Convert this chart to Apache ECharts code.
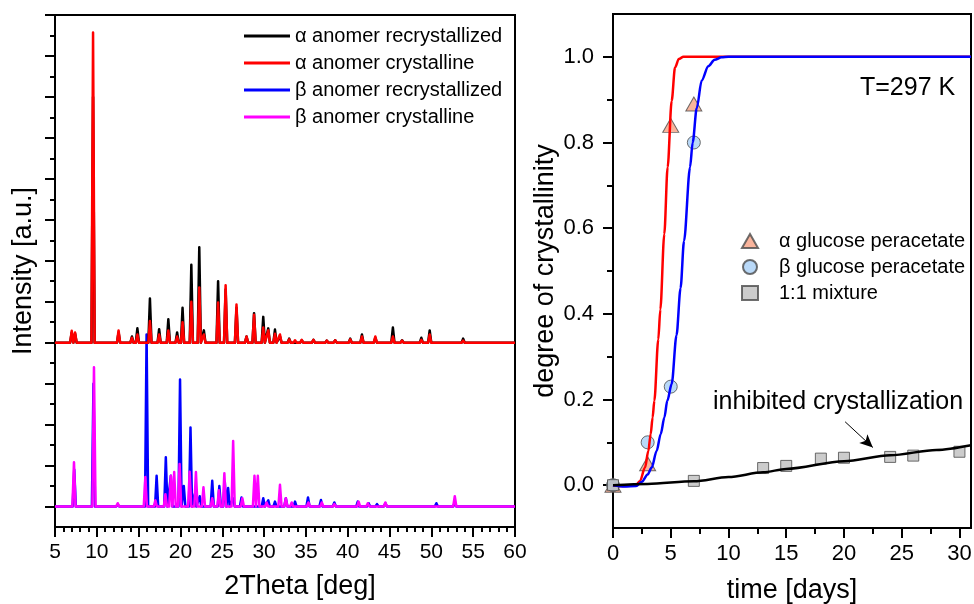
<!DOCTYPE html>
<html>
<head>
<meta charset="utf-8">
<script src="https://cdn.jsdelivr.net/npm/echarts@6/dist/echarts.min.js"></script>
<style>
  html, body { margin: 0; background: #fff; }
  #chart { width: 974px; height: 604px; }
</style>
</head>
<body>
<div id="chart"></div>
<script>
const FONT = 'Arial, "Liberation Sans", sans-serif';

/* ---- left panel: XRD peaks, [2theta, height above the pattern's own baseline] ---- */
const alphaRecrystPeaks = [
  [7.0, 0.25], [7.4, 0.22], [9.55, 6.0], [12.6, 0.25], [14.2, 0.15], [14.85, 0.35],
  [16.35, 1.08], [17.45, 0.33], [18.55, 0.57], [19.6, 0.25], [20.25, 0.85], [21.3, 1.9],
  [22.25, 2.33], [22.8, 0.3], [24.5, 1.5], [25.4, 1.3], [26.7, 0.85], [27.9, 0.15],
  [28.8, 0.72], [29.9, 0.63], [30.5, 0.35], [31.3, 0.32], [31.9, 0.15], [33.0, 0.1],
  [34.5, 0.06], [35.9, 0.07], [37.5, 0.05], [38.5, 0.06], [40.3, 0.1], [41.7, 0.2],
  [43.3, 0.12], [45.4, 0.37], [46.5, 0.06], [48.8, 0.12], [49.8, 0.3], [53.8, 0.1]
];
const alphaCrystPeaks = [
  [7.0, 0.29], [7.4, 0.25], [9.55, 7.57], [12.6, 0.3], [14.2, 0.12], [14.85, 0.2],
  [16.35, 0.53], [17.45, 0.2], [18.55, 0.3], [19.6, 0.15], [20.25, 0.5], [21.3, 1.0],
  [22.25, 1.35], [22.8, 0.2], [24.5, 0.98], [25.4, 1.4], [26.7, 0.93], [27.9, 0.15],
  [28.8, 0.68], [29.9, 0.37], [30.5, 0.3], [31.3, 0.22], [31.9, 0.2], [33.0, 0.08],
  [33.7, 0.06], [34.5, 0.07], [35.9, 0.07], [37.5, 0.05], [38.5, 0.06], [40.3, 0.08],
  [41.7, 0.15], [43.3, 0.15], [45.4, 0.15], [46.5, 0.05], [48.8, 0.07], [49.8, 0.2], [53.8, 0.05]
];
const betaRecrystPeaks = [
  [7.3, 0.9], [9.6, 3.0], [12.5, 0.05], [15.95, 4.2], [17.15, 0.75], [18.25, 1.2],
  [18.85, 0.75], [19.95, 3.1], [20.4, 0.5], [21.2, 1.93], [21.7, 0.3], [22.3, 0.25],
  [23.8, 0.63], [24.65, 0.5], [25.3, 0.6], [25.7, 0.45], [26.3, 0.2], [27.3, 0.22],
  [29.9, 0.2], [30.5, 0.15], [31.3, 0.12], [32.6, 0.2], [33.7, 0.12], [35.25, 0.22],
  [36.8, 0.16], [38.4, 0.1], [41.2, 0.12], [42.5, 0.08], [43.5, 0.06], [44.5, 0.08],
  [50.6, 0.08], [52.8, 0.1]
];
const betaCrystPeaks = [
  [7.27, 1.08], [9.66, 3.4], [12.5, 0.08], [15.8, 0.72], [17.0, 0.15], [18.2, 0.3],
  [18.85, 0.75], [19.25, 0.84], [19.9, 1.04], [21.1, 0.85], [21.85, 0.84], [22.75, 0.47],
  [23.8, 0.2], [24.6, 0.4], [25.25, 0.81], [26.3, 1.6], [27.4, 0.2], [28.85, 0.75],
  [29.25, 0.75], [30.3, 0.1], [31.9, 0.53], [32.6, 0.2], [33.3, 0.1], [35.3, 0.1],
  [36.9, 0.1], [38.4, 0.06], [41.3, 0.12], [42.4, 0.08], [44.5, 0.1], [52.8, 0.25]
];
const alphaBaseline = 4;   // alpha patterns are stacked above the beta ones
const betaBaseline = 0;
const xrdNames = ['α anomer recrystallized', 'α anomer crystalline', 'β anomer recrystallized', 'β anomer crystalline'];
const xrdColors = ['#000000', '#ff0000', '#0000ff', '#ff00ff'];

/* ---- right panel: degree of crystallinity ---- */
const alphaTime = [0, 3, 5, 7];
const alphaDegree = [0, 0.05, 0.84, 0.89];
const betaTime = [0, 3, 5, 7];
const betaDegree = [0, 0.10, 0.23, 0.80];
const mixTime = [0, 7, 13, 15, 18, 20, 24, 26, 30];
const mixDegree = [0, 0.01, 0.04, 0.045, 0.062, 0.064, 0.066, 0.069, 0.078];

// fitted curves
const alphaFitTime = [0, 1, 2, 2.34, 2.77, 3.06, 3.26, 3.43, 3.58, 3.92, 4.1, 4.44, 4.73, 5.08, 5.37, 5.7, 6.1, 8, 31];
const alphaFitDegree = [0, -0.002, 0, 0.01, 0.041, 0.08, 0.119, 0.158, 0.197, 0.34, 0.41, 0.586, 0.742, 0.897, 0.975, 0.995, 1.0, 1.0, 1.0];
const betaFitTime = [0, 1, 2, 2.5, 3, 3.35, 3.78, 4.13, 4.45, 4.7, 5.08, 5.5, 5.85, 6.15, 6.67, 6.9, 7.25, 7.68, 8.25, 8.8, 9.4, 10, 31];
const betaFitDegree = [0, -0.003, -0.002, 0.008, 0.025, 0.041, 0.08, 0.119, 0.158, 0.197, 0.236, 0.35, 0.46, 0.57, 0.742, 0.8, 0.88, 0.945, 0.978, 0.993, 0.999, 1.0, 1.0];
const mixFitTime = [0, 3, 7, 10, 13, 15, 20, 24, 28, 31];
const mixFitDegree = [0, 0.003, 0.009, 0.019, 0.030, 0.038, 0.056, 0.070, 0.082, 0.093];

const timeMajor = [0, 5, 10, 15, 20, 25, 30];
const timeAllTicks = [0, 2.5, 5, 7.5, 10, 12.5, 15, 17.5, 20, 22.5, 25, 27.5, 30];
const degreeMajor = [0, 0.2, 0.4, 0.6, 0.8, 1.0];
const degreeAllTicks = [0, 0.1, 0.2, 0.3, 0.4, 0.5, 0.6, 0.7, 0.8, 0.9, 1.0];

const arrowFrom = [20.1, 0.148];
const arrowTo = [22.5, 0.088];

const zip = (xs, ys) => xs.map((x, i) => [x, ys[i]]);

// each peak becomes a narrow spike standing on the baseline
function pattern(peaks, base) {
  const pts = [[5, base]];
  peaks.forEach(([pos, h]) => {
    pts.push([pos - 0.19, base], [pos, base + h], [pos + 0.19, base]);
  });
  pts.push([60, base]);
  return pts;
}

const axisLine = { show: true, onZero: false, lineStyle: { color: '#000', width: 2 } };
const labelStyle = { color: '#000', fontFamily: FONT };
const tickLine = { color: '#000', width: 2 };
const rightRect = { left: 613, right: 3, top: 14, bottom: 76 };

function xrdSeries(i, peaks, base) {
  return {
    type: 'line', name: xrdNames[i], xAxisIndex: 0, yAxisIndex: 0,
    data: pattern(peaks, base), showSymbol: false, symbol: 'none',
    itemStyle: { color: xrdColors[i] },
    lineStyle: { color: xrdColors[i], width: 2.5, join: 'round' },
    z: 2
  };
}

function fitSeries(name, xs, ys, color) {
  return {
    type: 'line', name, xAxisIndex: 1, yAxisIndex: 2,
    data: zip(xs, ys), showSymbol: false, symbol: 'none',
    smooth: 0.3, smoothMonotone: 'x',
    itemStyle: { color }, lineStyle: { color, width: 2.5 }, z: 4
  };
}

const chart = echarts.init(document.getElementById('chart'), null, { renderer: 'canvas' });

chart.setOption({
  backgroundColor: '#fff',
  animation: false,
  textStyle: { fontFamily: FONT },
  grid: [
    { left: 55, right: 459, top: 15, bottom: 77, show: true, borderColor: '#000', borderWidth: 2, outerBoundsMode: 'none' },
    { ...rightRect, show: true, borderColor: '#000', borderWidth: 2, outerBoundsMode: 'none' },
    // same box again: carries the longer major ticks of the right panel
    { ...rightRect, show: false, outerBoundsMode: 'none' }
  ],
  legend: [{
    data: xrdNames, orient: 'vertical', left: 239, top: 21,
    icon: 'rect', itemWidth: 46, itemHeight: 3, itemGap: 7, selectedMode: false,
    textStyle: { fontSize: 20, color: '#000', fontFamily: FONT }
  }, {
    data: ['α glucose peracetate', 'β glucose peracetate', '1:1 mixture'],
    orient: 'vertical', left: 736, top: 226,
    itemWidth: 16, itemHeight: 14, itemGap: 6, selectedMode: false,
    textStyle: { fontSize: 20, color: '#000', fontFamily: FONT, padding: [0, 0, 0, 16] }
  }],
  xAxis: [{
    gridIndex: 0, type: 'value', min: 5, max: 60, interval: 5,
    name: '2Theta [deg]', nameLocation: 'middle', nameGap: 46,
    nameTextStyle: { fontSize: 27, color: '#000', fontFamily: FONT, padding: [0, 0, 0, 30] },
    axisLine, splitLine: { show: false },
    axisTick: { length: 10, lineStyle: tickLine },
    minorTick: { show: true, splitNumber: 5, length: 5, lineStyle: tickLine },
    axisLabel: { ...labelStyle, fontSize: 21, margin: 15 }
  }, {
    gridIndex: 1, type: 'value', min: 0, max: 31, position: 'bottom',
    name: 'time [days]', nameLocation: 'middle', nameGap: 49,
    nameTextStyle: { fontSize: 27, color: '#000', fontFamily: FONT },
    axisLine, splitLine: { show: false },
    axisTick: { length: 6, customValues: timeAllTicks, lineStyle: tickLine },
    axisLabel: { ...labelStyle, fontSize: 22, margin: 15, customValues: timeMajor }
  }, {
    // tick carrier on the bottom edge (its y partner has zero at the bottom)
    gridIndex: 2, type: 'value', min: 0, max: 31,
    axisLine: { show: false }, splitLine: { show: false }, axisLabel: { show: false },
    axisTick: { length: 10, customValues: timeMajor, lineStyle: tickLine }
  }],
  yAxis: [{
    gridIndex: 0, type: 'value', min: -0.5, max: 12, position: 'left',
    name: 'Intensity [a.u.]', nameLocation: 'middle', nameGap: 18,
    nameTextStyle: { fontSize: 27, color: '#000', fontFamily: FONT },
    axisLine, splitLine: { show: false }, axisLabel: { show: false },
    axisTick: { length: 10, customValues: [0, 1, 2, 3, 4, 5, 6, 7, 8, 9, 10, 11, 12], lineStyle: tickLine }
  }, {
    gridIndex: 0, type: 'value', min: -0.5, max: 12, position: 'left',
    axisLine: { show: false, onZero: false }, splitLine: { show: false }, axisLabel: { show: false },
    axisTick: { length: 5, customValues: [0.5, 1.5, 2.5, 3.5, 4.5, 5.5, 6.5, 7.5, 8.5, 9.5, 10.5, 11.5], lineStyle: tickLine }
  }, {
    gridIndex: 1, type: 'value', min: -0.1, max: 1.1, position: 'left',
    name: 'degree of crystallinity', nameLocation: 'middle', nameGap: 54,
    nameTextStyle: { fontSize: 27, color: '#000', fontFamily: FONT },
    axisLine, splitLine: { show: false },
    axisTick: { length: 6, customValues: degreeAllTicks, lineStyle: tickLine },
    axisLabel: { ...labelStyle, fontSize: 22, margin: 19, customValues: degreeMajor, formatter: v => v.toFixed(1) }
  }, {
    // tick carrier on the left edge, range shifted by 0.1 so its zero sits on the bottom edge
    gridIndex: 2, type: 'value', min: 0, max: 1.2,
    axisLine: { show: false }, splitLine: { show: false }, axisLabel: { show: false },
    axisTick: { length: 10, customValues: degreeMajor.map(v => v + 0.1), lineStyle: tickLine }
  }],
  graphic: [
    { type: 'text', x: 860, y: 88, style: { text: 'T=297 K', fontSize: 25, fontFamily: FONT, fill: '#000', verticalAlign: 'middle' } },
    { type: 'text', x: 713, y: 402, style: { text: 'inhibited crystallization', fontSize: 25, fontFamily: FONT, fill: '#000', verticalAlign: 'middle' } }
  ],
  series: [
    // beta patterns first so the alpha baseline covers the tall beta peak
    xrdSeries(2, betaRecrystPeaks, betaBaseline),
    xrdSeries(3, betaCrystPeaks, betaBaseline),
    xrdSeries(0, alphaRecrystPeaks, alphaBaseline),
    xrdSeries(1, alphaCrystPeaks, alphaBaseline),
    {
      type: 'scatter', name: 'α glucose peracetate', xAxisIndex: 1, yAxisIndex: 2,
      data: zip(alphaTime, alphaDegree), symbol: 'triangle', symbolSize: [16, 14], clip: false,
      itemStyle: { color: '#f8a183', borderColor: '#4a4a4a', borderWidth: 1 }, z: 3
    },
    {
      type: 'scatter', name: 'β glucose peracetate', xAxisIndex: 1, yAxisIndex: 2,
      data: zip(betaTime, betaDegree), symbol: 'circle', symbolSize: 13, clip: false,
      itemStyle: { color: '#a8d0f6', borderColor: '#4a4a4a', borderWidth: 1 }, z: 3
    },
    {
      type: 'scatter', name: '1:1 mixture', xAxisIndex: 1, yAxisIndex: 2,
      data: zip(mixTime, mixDegree), symbol: 'rect', symbolSize: 11, clip: false,
      itemStyle: { color: '#bfbfbf', borderColor: '#4a4a4a', borderWidth: 1 }, z: 3
    },
    fitSeries('α fit', alphaFitTime, alphaFitDegree, '#ff0000'),
    fitSeries('β fit', betaFitTime, betaFitDegree, '#0000ff'),
    Object.assign(fitSeries('mixture fit', mixFitTime, mixFitDegree, '#000000'), {
      markLine: {
        silent: true, symbol: ['none', 'arrow'], symbolSize: [9, 13],
        label: { show: false },
        lineStyle: { color: '#000', width: 1, type: 'solid' },
        data: [[{ coord: arrowFrom }, { coord: arrowTo }]]
      }
    })
  ]
});
</script>
</body>
</html>
